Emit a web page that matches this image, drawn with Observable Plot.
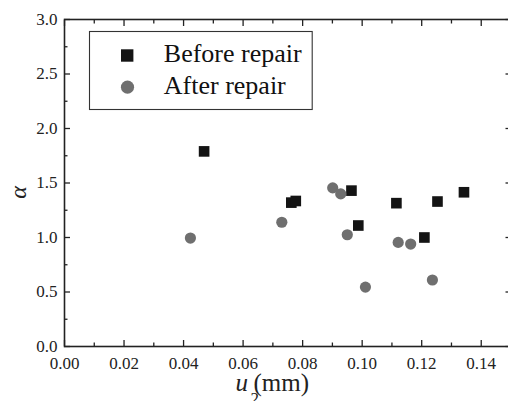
<!DOCTYPE html>
<html>
<head>
<meta charset="utf-8">
<script src="https://cdn.jsdelivr.net/npm/d3@7"></script>
<script src="https://cdn.jsdelivr.net/npm/@observablehq/plot@0.6"></script>
<style>
  html, body { margin: 0; padding: 0; background: #fff; }
  #chart { width: 508px; height: 401px; overflow: hidden; }
  #chart svg, #chart svg text { font-family: "Liberation Serif", "Times New Roman", serif !important; }
</style>
</head>
<body>
<div id="chart"></div>
<script>
// Data
const seriesNames = ["Before repair", "After repair"];
const beforeX = [0.0469, 0.0762, 0.0777, 0.0964, 0.0987, 0.1115, 0.1209, 0.1253, 0.1342];
const beforeY = [1.79, 1.32, 1.335, 1.43, 1.11, 1.315, 1.0, 1.33, 1.415];
const afterX = [0.0423, 0.073, 0.0901, 0.0928, 0.095, 0.1011, 0.1121, 0.1163, 0.1236];
const afterY = [0.995, 1.14, 1.455, 1.40, 1.025, 0.545, 0.955, 0.94, 0.61];

const xMajor = [0, 0.02, 0.04, 0.06, 0.08, 0.10, 0.12, 0.14];
const xMinor = [0.01, 0.03, 0.05, 0.07, 0.09, 0.11, 0.13, 0.15];
const yMajor = [0, 0.5, 1.0, 1.5, 2.0, 2.5, 3.0];
const yMinor = [0.25, 0.75, 1.25, 1.75, 2.25, 2.75];

const before = beforeX.map((x, i) => ({x, y: beforeY[i]}));
const after = afterX.map((x, i) => ({x, y: afterY[i]}));

const FONT = "Liberation Serif";
const axisColor = "#222";
const empty = () => "";

const chart = Plot.plot({
  width: 508,
  height: 401,
  marginLeft: 64,
  marginRight: -2.5,
  marginTop: 19,
  marginBottom: 55,
  style: {fontFamily: FONT, fontSize: "17px", color: axisColor, background: "#fff"},
  x: {domain: [0, 0.15]},
  y: {domain: [0, 3]},
  marks: [
    // data
    Plot.dot(before, {x: "x", y: "y", symbol: "square", r: 6, fill: "#141414", stroke: "none"}),
    Plot.dot(after, {x: "x", y: "y", symbol: "circle", r: 5.6, fill: "#6f6f6f", stroke: "none"}),

    // inward ticks: bottom
    Plot.axisX(xMajor, {anchor: "bottom", tickSize: 6, dy: -6, tickFormat: empty, label: null, strokeWidth: 1.3}),
    Plot.axisX(xMinor, {anchor: "bottom", tickSize: 3.5, dy: -3.5, tickFormat: empty, label: null, strokeWidth: 1.3}),
    // top
    Plot.axisX(xMajor, {anchor: "top", tickSize: 6, dy: 6, tickFormat: empty, label: null, strokeWidth: 1.3}),
    Plot.axisX(xMinor, {anchor: "top", tickSize: 3.5, dy: 3.5, tickFormat: empty, label: null, strokeWidth: 1.3}),
    // left
    Plot.axisY(yMajor, {anchor: "left", tickSize: 6, dx: 6, tickFormat: empty, label: null, strokeWidth: 1.3}),
    Plot.axisY(yMinor, {anchor: "left", tickSize: 3.5, dx: 3.5, tickFormat: empty, label: null, strokeWidth: 1.3}),
    // right
    Plot.axisY(yMajor, {anchor: "right", tickSize: 6, dx: -6, tickFormat: empty, label: null, strokeWidth: 1.3}),
    Plot.axisY(yMinor, {anchor: "right", tickSize: 3.5, dx: -3.5, tickFormat: empty, label: null, strokeWidth: 1.3}),

    // tick labels
    Plot.axisX(xMajor, {anchor: "bottom", tickSize: 0, tickPadding: 10, tickFormat: d3.format(".2f"), label: null, fontSize: 17, fontFamily: FONT, fontVariant: "normal"}),
    Plot.axisY(yMajor, {anchor: "left", tickSize: 0, tickPadding: 7, tickFormat: d3.format(".1f"), label: null, fontSize: 17, fontFamily: FONT, fontVariant: "normal"}),

    // frame
    Plot.frame({stroke: axisColor, strokeWidth: 1.6}),

    // axis titles
    Plot.text(["u"], {frameAnchor: "bottom-left", dx: 171, dy: 44, text: d => d, fontFamily: FONT, fontStyle: "italic", fontSize: 25, textAnchor: "start", lineAnchor: "bottom", fill: axisColor}),
    Plot.text(["2"], {frameAnchor: "bottom-left", dx: 186, dy: 57, text: d => d, fontFamily: FONT, fontSize: 17, textAnchor: "start", lineAnchor: "bottom", fill: axisColor}),
    Plot.text(["(mm)"], {frameAnchor: "bottom-left", dx: 189, dy: 44, text: d => d, fontFamily: FONT, fontSize: 25, textAnchor: "start", lineAnchor: "bottom", fill: axisColor}),
    Plot.text(["α"], {frameAnchor: "left", dx: -39, dy: 9.5, rotate: -90, text: d => d, fontFamily: FONT, fontStyle: "italic", fontSize: 24, textAnchor: "middle", lineAnchor: "bottom", fill: axisColor}),

    // legend
    Plot.frame({stroke: "#333", strokeWidth: 1.1, insetLeft: 25, insetTop: 12, insetRight: 198.8, insetBottom: 237}),
    Plot.dot([seriesNames[0]], {frameAnchor: "top-left", dx: 62.7, dy: 36, symbol: "square", r: 7, fill: "#141414", stroke: "none"}),
    Plot.dot([seriesNames[1]], {frameAnchor: "top-left", dx: 63, dy: 67.7, symbol: "circle", r: 6.6, fill: "#6f6f6f", stroke: "none"}),
    Plot.text([seriesNames[0]], {frameAnchor: "top-left", dx: 99.3, dy: 42.7, text: d => d, fontFamily: FONT, fontSize: 26, textAnchor: "start", lineAnchor: "bottom", fill: "#111"}),
    Plot.text([seriesNames[1]], {frameAnchor: "top-left", dx: 99.3, dy: 74.3, text: d => d, fontFamily: FONT, fontSize: 26, textAnchor: "start", lineAnchor: "bottom", fill: "#111"})
  ]
});

document.getElementById("chart").appendChild(chart);
</script>
</body>
</html>
